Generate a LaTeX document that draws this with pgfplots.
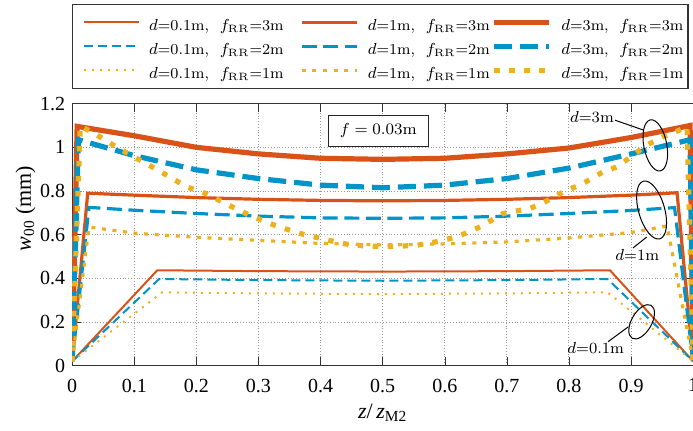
\documentclass[border=0pt]{standalone}
\usepackage{pgfplots}
\pgfplotsset{compat=1.18}
\usepackage{fontspec}
\usetikzlibrary{shapes.geometric}
\newfontfamily\tnr{Liberation Serif}
\definecolor{cOr}{RGB}{217,83,25}
\definecolor{cBl}{RGB}{0,148,200}
\definecolor{cYe}{RGB}{237,177,32}
\newcommand{\la}[1]{\makebox[75.5pt][l]{#1}}
\newcommand{\lb}[1]{\makebox[62pt][l]{#1}}
\newcommand{\lc}[1]{\makebox[58.3pt][l]{#1}}
\begin{document}
\begin{tikzpicture}
\begin{axis}[
  at={(0,0)}, anchor=south west,
  scale only axis, width=310.5pt, height=131pt,
  xmin=0, xmax=1, ymin=0, ymax=1.2,
  xtick={0,0.1,...,1.0}, ytick={0,0.2,...,1.2},
  xticklabels={0,0.1,0.2,0.3,0.4,0.5,0.6,0.7,0.8,0.9,1},
  yticklabels={0,0.2,0.4,0.6,0.8,1,1.2},
  grid=major,
  major grid style={densely dotted, black!40, line width=0.5pt},
  axis line style={black!80, line width=0.5pt},
  tick style={black!80},
  ticklabel style={font=\tnr\fontsize{10}{12}\selectfont},
  xticklabel style={yshift=-3pt},
  /pgf/number format/assume math mode=true,
  xlabel={\tnr\fontsize{11}{13}\selectfont\textit{z}/\,\textit{z}\textsubscript{M2}},
  ylabel={\tnr\fontsize{11}{13}\selectfont\textit{w}\textsubscript{00} (mm)},
  xlabel style={at={(axis description cs:0.5,-0.181)}, anchor=center},
  ylabel style={at={(axis description cs:-0.075,0.6)}, anchor=center},
  legend columns=3,
  legend cell align=left,
  legend image code/.code={\draw[#1] (0pt,0pt) -- (27.5pt,0pt);},
  legend style={at={(axis description cs:0,1)}, anchor=south west, yshift=7.35pt,
    draw=black!80, line width=0.6pt, fill=white,
    font=\fontsize{7.6}{10}\selectfont,
    nodes={inner sep=0pt, text height=10pt, text depth=1.5pt},
    inner xsep=5pt, inner ysep=3.25pt, row sep=0.5pt,
    /tikz/every odd column/.append style={column sep=4.7pt}},
]
% row 1: fRR = 3m
\addplot[cOr, line width=1pt] coordinates {(0,0.02) (0.137,0.437) (0.3,0.433) (0.5,0.431) (0.7,0.433) (0.866,0.437) (1,0.02)};
\addlegendentry{\la{$d$=0.1m,\ \ $f_{\mathrm{RR}}$=3m}}
\addplot[cOr, line width=1.6pt] coordinates {(0,0.02) (0.025,0.79) (0.1,0.781) (0.2,0.77) (0.3,0.762) (0.4,0.757) (0.5,0.755) (0.6,0.757) (0.7,0.762) (0.8,0.77) (0.9,0.781) (0.974,0.792) (1,0.02)};
\addlegendentry{\lb{$d$=1m,\ \ $f_{\mathrm{RR}}$=3m}}
\addplot[cOr, line width=2.6pt] coordinates {(0,0.02) (0.008,1.096) (0.1,1.053) (0.2,1.0) (0.3,0.97) (0.4,0.95) (0.5,0.945) (0.6,0.95) (0.7,0.97) (0.8,0.997) (0.9,1.045) (0.995,1.1) (1,0.02)};
\addlegendentry{\lc{$d$=3m,\ \ $f_{\mathrm{RR}}$=3m}}
% row 2: fRR = 2m
\addplot[cBl, line width=1pt, dash pattern=on 4.5pt off 2.5pt] coordinates {(0,0.02) (0.14,0.397) (0.3,0.392) (0.5,0.389) (0.7,0.392) (0.862,0.397) (1,0.02)};
\addlegendentry{\la{$d$=0.1m,\ \ $f_{\mathrm{RR}}$=2m}}
\addplot[cBl, line width=1.6pt, dash pattern=on 7.5pt off 3.3pt] coordinates {(0,0.02) (0.027,0.725) (0.1,0.712) (0.2,0.697) (0.3,0.685) (0.4,0.677) (0.5,0.675) (0.6,0.677) (0.7,0.685) (0.8,0.697) (0.9,0.711) (0.97,0.724) (1,0.02)};
\addlegendentry{\lb{$d$=1m,\ \ $f_{\mathrm{RR}}$=2m}}
\addplot[cBl, line width=2.6pt, dash pattern=on 9pt off 4pt] coordinates {(0,0.02) (0.01,1.035) (0.1,0.962) (0.2,0.897) (0.3,0.857) (0.4,0.827) (0.5,0.815) (0.6,0.827) (0.7,0.857) (0.8,0.905) (0.9,0.97) (0.995,1.035) (1,0.02)};
\addlegendentry{\lc{$d$=3m,\ \ $f_{\mathrm{RR}}$=2m}}
% row 3: fRR = 1m
\addplot[cYe, line width=1pt, dash pattern=on 1pt off 3pt] coordinates {(0,0.02) (0.145,0.336) (0.3,0.331) (0.5,0.328) (0.7,0.331) (0.862,0.336) (1,0.02)};
\addlegendentry{\la{$d$=0.1m,\ \ $f_{\mathrm{RR}}$=1m}}
\addplot[cYe, line width=1.6pt, dash pattern=on 2pt off 3.3pt] coordinates {(0,0.02) (0.027,0.635) (0.1,0.607) (0.2,0.588) (0.3,0.574) (0.4,0.56) (0.5,0.553) (0.6,0.558) (0.7,0.567) (0.8,0.585) (0.9,0.61) (0.958,0.64) (1,0.02)};
\addlegendentry{\lb{$d$=1m,\ \ $f_{\mathrm{RR}}$=1m}}
\addplot[cYe, line width=2.6pt, dash pattern=on 2.7pt off 4.8pt] coordinates {(0,0.02) (0.013,1.098) (0.035,1.065) (0.072,1.0) (0.144,0.886) (0.185,0.818) (0.21,0.795) (0.263,0.72) (0.285,0.69) (0.326,0.643) (0.366,0.606) (0.412,0.575) (0.45,0.552) (0.5,0.545) (0.55,0.55) (0.576,0.561) (0.62,0.59) (0.657,0.636) (0.694,0.697) (0.737,0.72) (0.758,0.745) (0.796,0.804) (0.818,0.827) (0.855,0.888) (0.877,0.91) (0.925,1.01) (0.951,1.048) (0.971,1.07) (0.99,1.095) (1,0.02)};
\addlegendentry{\lc{$d$=3m,\ \ $f_{\mathrm{RR}}$=1m}}
% annotations
\node[draw=black!85, fill=white, line width=0.6pt, minimum width=50pt, minimum height=15.8pt, inner sep=0pt, font=\fontsize{8}{10}\selectfont] at (axis cs:0.493,1.075) {$f = 0.03$m};
\node[draw=black, line width=0.5pt, ellipse, inner sep=0pt, minimum width=11.5pt, minimum height=26pt, rotate=11] at (axis cs:0.939,1.009) {};
\node[draw=black, line width=0.5pt, ellipse, inner sep=0pt, minimum width=13pt, minimum height=30pt, rotate=16] at (axis cs:0.933,0.713) {};
\node[draw=black, line width=0.5pt, ellipse, inner sep=0pt, minimum width=10pt, minimum height=19pt, rotate=-30] at (axis cs:0.917,0.201) {};
\draw[black, line width=0.5pt] (axis cs:0.874,1.1245) -- (axis cs:0.920,1.079);
\draw[black, line width=0.5pt] (axis cs:0.903,0.539) -- (axis cs:0.925,0.589);
\draw[black, line width=0.5pt] (axis cs:0.863,0.11) -- (axis cs:0.8955,0.178);
\node[font=\fontsize{7.8}{10}\selectfont, inner sep=0pt] at (axis cs:0.837,1.14) {$d$=3m};
\node[font=\fontsize{7.8}{10}\selectfont, inner sep=0pt] at (axis cs:0.91,0.507) {$d$=1m};
\node[font=\fontsize{7.8}{10}\selectfont, inner sep=0pt] at (axis cs:0.843,0.08) {$d$=0.1m};
\end{axis}
\pgfresetboundingbox
\path[use as bounding box] (-36.1pt,-32.65pt) rectangle (310.4pt,182.85pt);
\end{tikzpicture}
\end{document}
